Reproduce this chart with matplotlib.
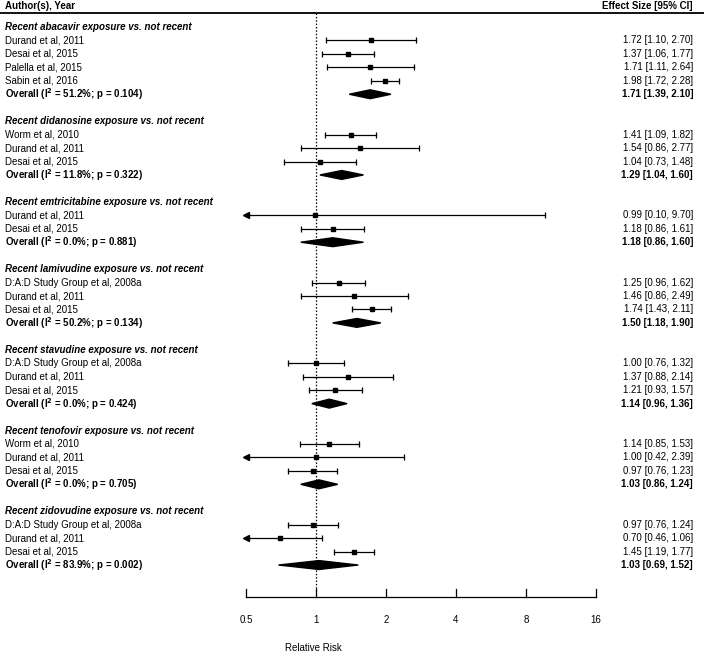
import numpy as np
import matplotlib
matplotlib.use("Agg")
import matplotlib.pyplot as plt
from matplotlib.patches import Polygon

plt.rcParams['font.family'] = ['Liberation Sans', 'DejaVu Sans']

# Datos
groups = ["abacavir", "didanosine", "emtricitabine", "lamivudine",
          "stavudine", "tenofovir", "zidovudine"]
studies = [
    ["Durand et al, 2011", "Desai et al, 2015", "Palella et al, 2015", "Sabin et al, 2016"],
    ["Worm et al, 2010", "Durand et al, 2011", "Desai et al, 2015"],
    ["Durand et al, 2011", "Desai et al, 2015"],
    ["D:A:D Study Group et al, 2008a", "Durand et al, 2011", "Desai et al, 2015"],
    ["D:A:D Study Group et al, 2008a", "Durand et al, 2011", "Desai et al, 2015"],
    ["Worm et al, 2010", "Durand et al, 2011", "Desai et al, 2015"],
    ["D:A:D Study Group et al, 2008a", "Durand et al, 2011", "Desai et al, 2015"],
]
est = [[1.72, 1.37, 1.71, 1.98], [1.41, 1.54, 1.04], [0.99, 1.18],
       [1.25, 1.46, 1.74], [1.00, 1.37, 1.21], [1.14, 1.00, 0.97],
       [0.97, 0.70, 1.45]]
lo = [[1.10, 1.06, 1.11, 1.72], [1.09, 0.86, 0.73], [0.10, 0.86],
      [0.96, 0.86, 1.43], [0.76, 0.88, 0.93], [0.85, 0.42, 0.76],
      [0.76, 0.46, 1.19]]
hi = [[2.70, 1.77, 2.64, 2.28], [1.82, 2.77, 1.48], [9.70, 1.61],
      [1.62, 2.49, 2.11], [1.32, 2.14, 1.57], [1.53, 2.39, 1.23],
      [1.24, 1.06, 1.77]]
ov_est = [1.71, 1.29, 1.18, 1.50, 1.14, 1.03, 1.03]
ov_lo = [1.39, 1.04, 0.86, 1.18, 0.96, 0.86, 0.69]
ov_hi = [2.10, 1.60, 1.60, 1.90, 1.36, 1.24, 1.52]
i2 = ["51.2", "11.8", "0.0", "50.2", "0.0", "0.0", "83.9"]
pval = ["0.104", "0.322", "0.881", "0.134", "0.424", "0.705", "0.002"]
ticks = [0.5, 1, 2, 4, 8, 16]

fig = plt.figure(figsize=(7.04, 6.53), dpi=100)
ax = fig.add_axes([0, 0, 1, 1])
ax.set_xscale('log', base=2)
ax.set_xlim(2 ** -4.514, 2 ** 5.543)
ax.set_ylim(46.54, -2.007)
ax.axis('off')

tr = ax.get_yaxis_transform()  # x en fracción, y en datos
fs = 7
xmin = 0.5

row = 0
for g in range(len(groups)):
    ax.text(5 / 704, row, "Recent %s exposure vs. not recent" % groups[g],
            transform=tr, fontsize=fs, fontweight='bold', style='italic', va='center')
    row += 1
    for s in range(len(studies[g])):
        ax.text(5 / 704, row, studies[g][s], transform=tr, fontsize=fs, va='center')
        ax.text(693 / 704, row, "%.2f [%.2f, %.2f]" % (est[g][s], lo[g][s], hi[g][s]),
                transform=tr, fontsize=fs, va='center', ha='right')
        l = max(lo[g][s], xmin)
        ax.plot([l, hi[g][s]], [row, row], color='black', lw=0.9)
        ax.plot([hi[g][s]], [row], marker='|', color='black', ms=5, mew=0.9)
        if lo[g][s] < xmin:
            ax.plot([xmin], [row], marker='<', color='black', ms=5)
        else:
            ax.plot([l], [row], marker='|', color='black', ms=5, mew=0.9)
        ax.plot([est[g][s]], [row], marker='s', color='black', ms=3.5)
        row += 1
    ax.text(5 / 704, row, "Overall (I$^{\\mathbf{2}}$ = %s%%; p = %s)" % (i2[g], pval[g]),
            transform=tr, fontsize=fs, fontweight='bold', va='center')
    ax.text(693 / 704, row, "%.2f [%.2f, %.2f]" % (ov_est[g], ov_lo[g], ov_hi[g]),
            transform=tr, fontsize=fs, fontweight='bold', va='center', ha='right')
    ax.add_patch(Polygon([(ov_lo[g], row), (ov_est[g], row - 0.33),
                          (ov_hi[g], row), (ov_est[g], row + 0.33)],
                         closed=True, color='black'))
    row += 2

# Cabecera
ax.text(5 / 704, -1.56, "Author(s), Year", transform=tr, fontsize=fs,
        fontweight='bold', va='center')
ax.text(693 / 704, -1.56, "Effect Size [95% CI]", transform=tr, fontsize=fs,
        fontweight='bold', va='center', ha='right')
ax.plot([0, 1], [-1.04, -1.04], transform=tr, color='black', lw=1.3)

# Línea de referencia
ax.plot([1, 1], [-1.04, 41.9], color='black', lw=0.9, ls=(0, (1.2, 1.5)))

# Eje inferior
ax.plot([ticks[0], ticks[-1]], [42.38, 42.38], color='black', lw=0.9)
for t in ticks:
    ax.plot([t, t], [42.38, 41.8], color='black', lw=0.9)
    ax.text(t, 44.1, "%g" % t, fontsize=fs, ha='center', va='center')
ax.text(313 / 704, 46.2, "Relative Risk", transform=tr, fontsize=fs,
        ha='center', va='center')

fig.savefig("out.png", dpi=100)
